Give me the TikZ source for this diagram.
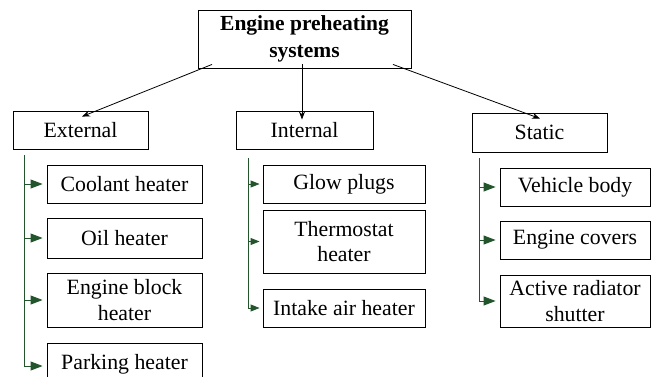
\documentclass[tikz,border=0pt]{standalone}
\usepackage{fontspec}
\setmainfont{Liberation Serif}
\usetikzlibrary{arrows.meta}
\definecolor{grn}{RGB}{35,85,45}
\tikzset{
  box/.style={draw, line width=0.9pt, inner sep=0pt, align=center, font=\fontsize{21.8}{25.5}\selectfont},
  blk/.style={line width=0.8pt, -{Stealth[length=8pt,width=6pt]}},
  gline/.style={draw=grn, line width=0.9pt},
  garr/.style={draw=grn, line width=0.9pt, -{Triangle[length=12pt,width=9pt]}, shorten >=4pt, fill=grn},
  garrs/.style={draw=grn, line width=0.9pt, -{Triangle[length=9pt,width=7pt]}, shorten >=3pt, fill=grn}
}
\begin{document}
\begin{tikzpicture}[x=1pt,y=-1pt]
\useasboundingbox (0,0) rectangle (654,376);
\node[box, minimum width=213pt, minimum height=58pt, font=\bfseries\fontsize{21.5}{27}\selectfont] (top) at (304.5,39) {Engine preheating\\systems};
\node[box, minimum width=135pt, minimum height=38pt] (ext) at (80.5,130) {External};
\node[box, minimum width=137pt, minimum height=38pt] (int) at (304.5,130) {Internal};
\node[box, minimum width=135pt, minimum height=39pt] (sta) at (539.5,132.5) {Static};
% external children
\node[box, minimum width=155pt, minimum height=38pt] (c1) at (124.5,184) {Coolant heater};
\node[box, minimum width=155pt, minimum height=40pt] (c2) at (124.5,238) {Oil heater};
\node[box, minimum width=155pt, minimum height=54pt] (c3) at (124.5,300) {Engine block\\heater};
\node[box, minimum width=155pt, minimum height=42pt] (c4) at (124.5,364) {Parking heater};
% internal children
\node[box, minimum width=162pt, minimum height=38pt] (i1) at (344,184) {Glow plugs};
\node[box, minimum width=162pt, minimum height=63pt] (i2) at (344,241.5) {Thermostat\\heater};
\node[box, minimum width=162pt, minimum height=38pt] (i3) at (344,308) {Intake air heater};
% static children
\node[box, minimum width=150pt, minimum height=38pt] (s1) at (575,187) {Vehicle body};
\node[box, minimum width=150pt, minimum height=38pt] (s2) at (575,240) {Engine covers};
\node[box, minimum width=150pt, minimum height=52pt] (s3) at (575,301) {Active radiator\\shutter};
% top arrows
\draw[blk] ([xshift=-92.5pt,yshift=4pt]top.south) -- ([xshift=1.5pt,yshift=-6pt]ext.north);
\draw[blk] ([xshift=-2.5pt,yshift=4pt]top.south) -- ([xshift=-2.5pt,yshift=-9pt]int.north);
\draw[blk] ([xshift=88.5pt,yshift=4pt]top.south) -- ([xshift=0.5pt,yshift=-6pt]sta.north);
% green trees
\coordinate (et) at (24,155);
\draw[gline] (et) |- ([xshift=-8pt,yshift=-2pt]c4.west);
\draw[garr] (et |- c1.west) -- (c1.west);
\draw[garr] (et |- c2.west) -- (c2.west);
\draw[garr] (et |- c3.west) -- (c3.west);
\draw[garr] ([yshift=-2pt]et |- c4.west) -- ([yshift=-2pt]c4.west);
\coordinate (it) at (248,158);
\draw[gline] (it) |- ([xshift=-8pt]i3.west);
\draw[garrs] (it |- i1.west) -- (i1.west);
\draw[garrs] (it |- i2.west) -- (i2.west);
\draw[garrs] (it |- i3.west) -- (i3.west);
\coordinate (st) at (479,158);
\draw[gline] (st) |- ([xshift=-8pt]s3.west);
\draw[garr] (st |- s1.west) -- (s1.west);
\draw[garr] (st |- s2.west) -- (s2.west);
\draw[garr] (st |- s3.west) -- (s3.west);
\end{tikzpicture}
\end{document}
